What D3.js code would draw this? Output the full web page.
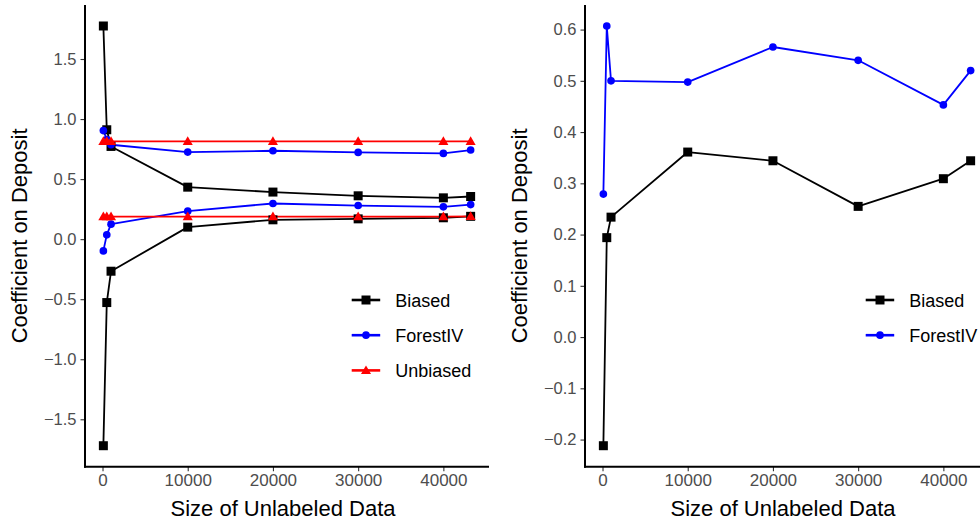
<!DOCTYPE html>
<html>
<head>
<meta charset="utf-8">
<script src="https://cdn.jsdelivr.net/npm/d3@7"></script>
<style>
  html, body { margin: 0; padding: 0; background: #fff; }
  svg { display: block; font-family: "Liberation Sans", Arial, Helvetica, sans-serif; }
</style>
</head>
<body>
<svg id="chart" width="980" height="523"></svg>
<script>
// ---- data ----
const sizes = [100, 500, 1000, 10000, 20000, 30000, 40000, 43200];

// left panel
const leftBiasedUpper   = [1.775, 0.911, 0.772, 0.433, 0.392, 0.361, 0.344, 0.355];
const leftBiasedLower   = [-1.72, -0.528, -0.267, 0.100, 0.161, 0.169, 0.178, 0.190];
const leftForestUpper   = [0.905, 0.830, 0.786, 0.725, 0.736, 0.722, 0.714, 0.742];
const leftForestLower   = [-0.098, 0.036, 0.125, 0.233, 0.297, 0.280, 0.269, 0.288];
const leftUnbiasedUpper = [0.815, 0.815, 0.815, 0.815, 0.815, 0.815, 0.815, 0.815];
const leftUnbiasedLower = [0.188, 0.188, 0.188, 0.188, 0.188, 0.188, 0.188, 0.190];

// right panel
const rightBiased = [-0.212, 0.194, 0.234, 0.361, 0.344, 0.255, 0.309, 0.344];
const rightForest = [0.279, 0.607, 0.500, 0.4975, 0.566, 0.540, 0.453, 0.520];

const leftYTicks  = [-1.5, -1.0, -0.5, 0.0, 0.5, 1.0, 1.5];
const rightYTicks = [-0.2, -0.1, 0.0, 0.1, 0.2, 0.3, 0.4, 0.5, 0.6];
const xTicks = [0, 10000, 20000, 30000, 40000];

const seriesNames = ["Biased", "ForestIV", "Unbiased"];
const seriesColors = { Biased: "#000000", ForestIV: "#0000FF", Unbiased: "#FF0000" };
const seriesShapes = { Biased: d3.symbolSquare, ForestIV: d3.symbolCircle, Unbiased: d3.symbolTriangle };
const shapeSizes = { Biased: 81, ForestIV: 46, Unbiased: 44 };

const xTitle = "Size of Unlabeled Data";
const yTitle = "Coefficient on Deposit";

// ---- drawing ----
const svg = d3.select("#chart");
svg.append("rect").attr("width", 980).attr("height", 523).attr("fill", "#fff");

const panelTop = 5, panelBottom = 466.7;

function fmtY(v, dec) {
  const s = Math.abs(v).toFixed(dec);
  return (v < 0 ? "\u2212" : "") + s;
}

function panel(opts) {
  const g = svg.append("g");
  const xe = d3.extent(sizes), xpad = (xe[1] - xe[0]) * 0.05;
  const x = d3.scaleLinear().domain([xe[0] - xpad, xe[1] + xpad]).range([opts.left, opts.left + 404]);
  const allY = opts.groups.flatMap(gr => gr.values);
  const ye = d3.extent(allY), ypad = (ye[1] - ye[0]) * 0.05;
  const y = d3.scaleLinear().domain([ye[0] - ypad, ye[1] + ypad]).range([panelBottom, panelTop]);

  // axes
  const yAxis = d3.axisLeft(y).tickValues(opts.yTicks).tickSize(4.5).tickPadding(4)
    .tickFormat(d => fmtY(d, 1));
  const ya = g.append("g").attr("transform", `translate(${opts.left},0)`).call(yAxis);
  const xAxis = d3.axisBottom(x).tickValues(xTicks).tickSize(4.5).tickPadding(3)
    .tickFormat(d3.format("d"));
  const xa = g.append("g").attr("transform", `translate(0,${panelBottom})`).call(xAxis);
  [ya, xa].forEach(a => {
    a.select(".domain").remove();
    a.selectAll(".tick line").attr("stroke", "#333333").attr("stroke-width", 1.1);
    a.selectAll(".tick text").attr("fill", "#4D4D4D").style("font-size", "16.5px")
      .style("font-family", "'Liberation Sans', Arial, sans-serif");
  });
  xa.selectAll(".tick text").style("font-size", "17px");
  // axis lines
  g.append("line").attr("x1", opts.left).attr("x2", opts.left).attr("y1", panelTop).attr("y2", panelBottom + 1)
    .attr("stroke", "#000").attr("stroke-width", 2);
  g.append("line").attr("x1", opts.left - 1).attr("x2", opts.left + 404).attr("y1", panelBottom).attr("y2", panelBottom)
    .attr("stroke", "#000").attr("stroke-width", 2);

  // titles
  g.append("text").attr("x", (opts.left + opts.left + 404) / 2 - 4).attr("y", 516)
    .attr("text-anchor", "middle").style("font-size", "22px").attr("fill", "#000").text(xTitle);
  g.append("text").attr("transform", `translate(${opts.left - 58},${(panelTop + panelBottom) / 2}) rotate(-90)`)
    .attr("text-anchor", "middle").style("font-size", "22px").attr("fill", "#000").text(yTitle);

  // series
  const line = d3.line().x((d, i) => x(sizes[i])).y(d => y(d));
  opts.groups.forEach(gr => {
    g.append("path").datum(gr.values).attr("d", line).attr("fill", "none")
      .attr("stroke", seriesColors[gr.name]).attr("stroke-width", 1.8).attr("stroke-linejoin", "round");
  });
  opts.groups.forEach(gr => {
    g.selectAll(null).data(gr.values).enter().append("path")
      .attr("d", d3.symbol().type(seriesShapes[gr.name]).size(shapeSizes[gr.name]))
      .attr("transform", (d, i) => `translate(${x(sizes[i])},${y(d) + (gr.name === "Unbiased" ? 0.8 : 0)})`)
      .attr("fill", seriesColors[gr.name]);
  });

  // legend
  opts.legend.forEach((name, i) => {
    const ly = 300 + i * 35.2;
    const lx = opts.legendX;
    g.append("line").attr("x1", lx).attr("x2", lx + 28.5).attr("y1", ly).attr("y2", ly)
      .attr("stroke", seriesColors[name]).attr("stroke-width", 2.6);
    g.append("path").attr("d", d3.symbol().type(seriesShapes[name]).size(shapeSizes[name]))
      .attr("transform", `translate(${lx + 14.3},${ly + (name === "Unbiased" ? 0.8 : 0)})`)
      .attr("fill", seriesColors[name]);
    g.append("text").attr("x", lx + 43.5).attr("y", ly + 6.5).style("font-size", "18px")
      .attr("fill", "#000").text(name);
  });
}

panel({
  left: 85,
  yTicks: leftYTicks,
  groups: [
    { name: "Biased", values: leftBiasedUpper },
    { name: "Biased", values: leftBiasedLower },
    { name: "ForestIV", values: leftForestUpper },
    { name: "ForestIV", values: leftForestLower },
    { name: "Unbiased", values: leftUnbiasedUpper },
    { name: "Unbiased", values: leftUnbiasedLower }
  ],
  legend: seriesNames,
  legendX: 351.7
});

panel({
  left: 585,
  yTicks: rightYTicks,
  groups: [
    { name: "Biased", values: rightBiased },
    { name: "ForestIV", values: rightForest }
  ],
  legend: ["Biased", "ForestIV"],
  legendX: 865.7
});
</script>
</body>
</html>
